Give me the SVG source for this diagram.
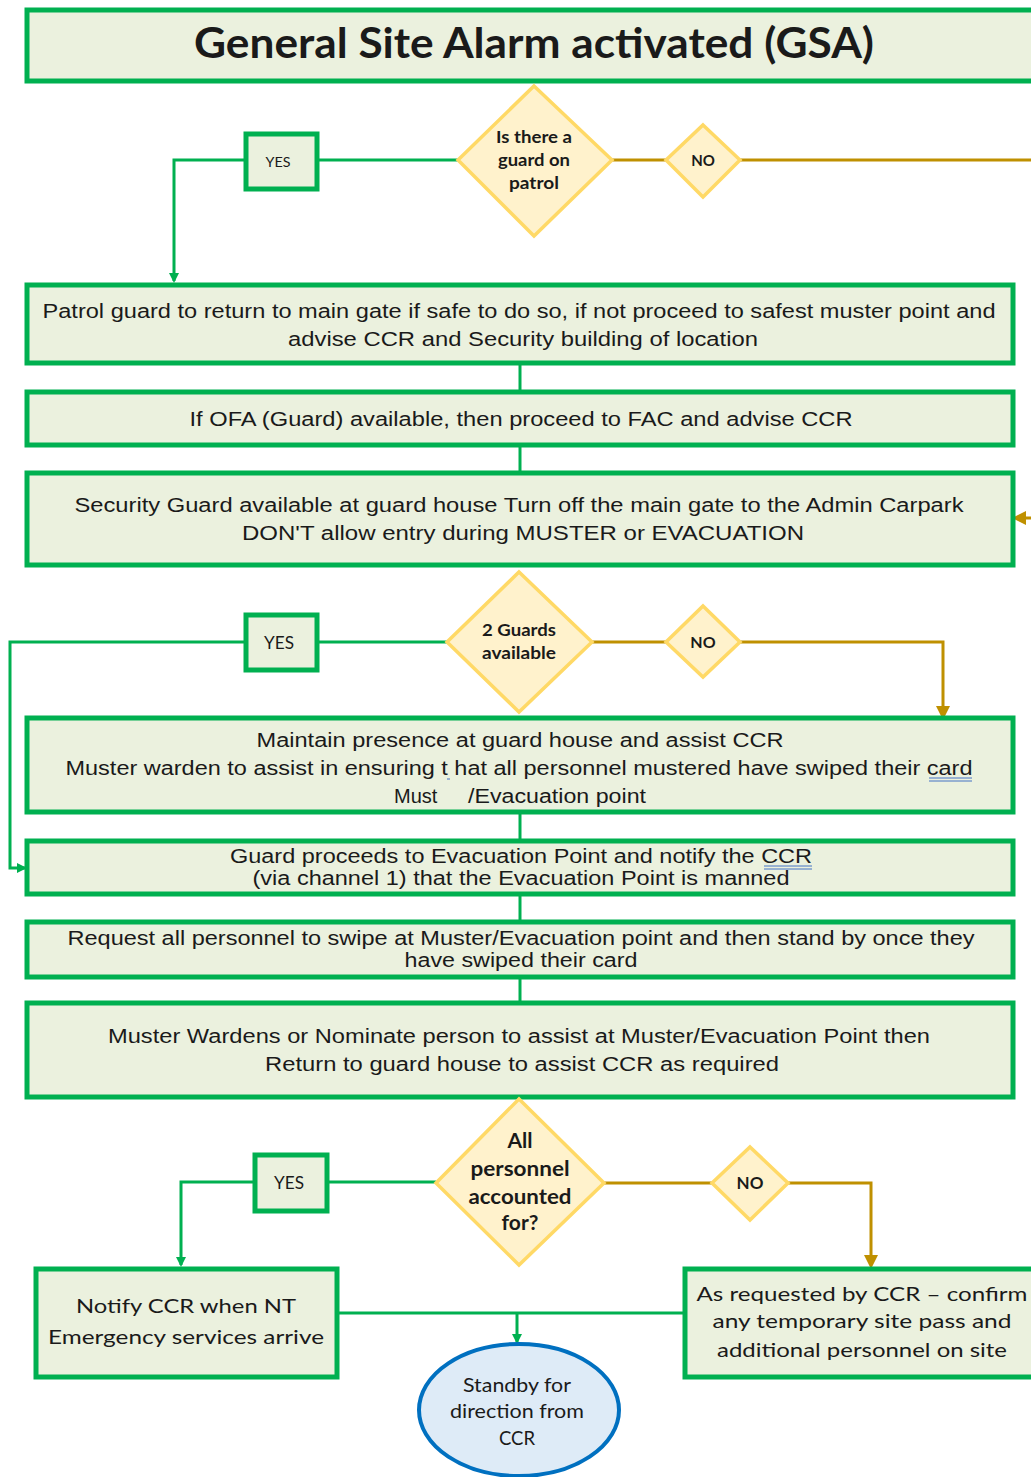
<svg xmlns="http://www.w3.org/2000/svg" width="1031" height="1477" viewBox="0 0 1031 1477">
<style>
.box{fill:#EBF1DE;stroke:#00B050;stroke-width:5}
.dia{fill:#FFF2CC;stroke:#FFD966;stroke-width:3.5}
.g{fill:none;stroke:#00B050;stroke-width:3}
.o{fill:none;stroke:#BF9000;stroke-width:3}
.t{font-family:"Liberation Sans",Arial,sans-serif;font-size:20px;fill:#1a1a1a;text-anchor:middle}
.c{font-family:Lato,"Open Sans",sans-serif;fill:#1a1a1a;text-anchor:middle}
.cb{font-family:Lato,"Open Sans",sans-serif;font-weight:bold;fill:#1a1a1a;text-anchor:middle}
.ul{stroke:#4472C4;stroke-width:1}
</style>
<defs>
<marker id="ag" markerWidth="10" markerHeight="10" refX="8" refY="5" orient="auto" markerUnits="userSpaceOnUse" viewBox="0 0 10 10"><path d="M0,0 L10,5 L0,10 z" fill="#00B050"/></marker>
<marker id="ao" markerWidth="14" markerHeight="14" refX="10" refY="7" orient="auto" markerUnits="userSpaceOnUse" viewBox="0 0 14 14"><path d="M0,0 L14,7 L0,14 z" fill="#BF9000"/></marker>
</defs>

<g id="connectors">
<path class="g" d="M458,160 H317"/>
<path class="g" d="M246,160 H174 V281" marker-end="url(#ag)"/>
<path class="o" d="M612,160 H666"/>
<path class="o" d="M740,160 H1045 V518 H1016" marker-end="url(#ao)"/>
<path class="g" d="M520,363 V392"/>
<path class="g" d="M520,445 V473"/>
<path class="g" d="M447,642 H317"/>
<path class="g" d="M246,642 H10 V868 H25" marker-end="url(#ag)"/>
<path class="o" d="M592,642 H666"/>
<path class="o" d="M740,642 H943 V716" marker-end="url(#ao)"/>
<path class="g" d="M520,812 V841"/>
<path class="g" d="M520,894 V922"/>
<path class="g" d="M520,977 V1003"/>
<path class="g" d="M436,1182 H327"/>
<path class="g" d="M255,1182 H181 V1265" marker-end="url(#ag)"/>
<path class="o" d="M604,1183 H712"/>
<path class="o" d="M788,1183 H871 V1265" marker-end="url(#ao)"/>
<path class="g" d="M337,1313 H685"/>
<path class="g" d="M517,1313 V1342" marker-end="url(#ag)"/>
</g>

<g id="title">
<rect class="box" x="27" y="10" width="1020" height="71"/>
<text class="cb" x="534" y="58" font-size="42" textLength="680" lengthAdjust="spacingAndGlyphs">General Site Alarm activated (GSA)</text>
</g>

<g id="q-patrol">
<polygon class="dia" points="534,86 612,160 534,236 458,160"/>
<text class="cb" x="534" y="143" font-size="17" textLength="76" lengthAdjust="spacingAndGlyphs">Is there a</text>
<text class="cb" x="534" y="166" font-size="17" textLength="72" lengthAdjust="spacingAndGlyphs">guard on</text>
<text class="cb" x="534" y="189" font-size="17" textLength="50" lengthAdjust="spacingAndGlyphs">patrol</text>
</g>

<g id="yes1">
<rect class="box" x="246" y="134" width="71" height="55"/>
<text class="c" x="278" y="167" font-size="14" textLength="25" lengthAdjust="spacingAndGlyphs">YES</text>
</g>

<g id="no1">
<polygon class="dia" points="703,125 740,160 703,197 666,160"/>
<text class="cb" x="703" y="166" font-size="15">NO</text>
</g>

<g id="patrol">
<rect class="box" x="27" y="285" width="986" height="78"/>
<text class="t" x="519" y="318" textLength="953" lengthAdjust="spacingAndGlyphs">Patrol guard to return to main gate if safe to do so, if not proceed to safest muster point and</text>
<text class="t" x="523" y="346" textLength="470" lengthAdjust="spacingAndGlyphs">advise CCR and Security building of location</text>
</g>

<g id="ofa">
<rect class="box" x="27" y="392" width="986" height="53"/>
<text class="t" x="521" y="426" textLength="663" lengthAdjust="spacingAndGlyphs">If OFA (Guard) available, then proceed to FAC and advise CCR</text>
</g>

<g id="security">
<rect class="box" x="27" y="473" width="986" height="92"/>
<text class="t" x="519" y="512" textLength="889" lengthAdjust="spacingAndGlyphs">Security Guard available at guard house Turn off the main gate to the Admin Carpark</text>
<text class="t" x="523" y="540" textLength="562" lengthAdjust="spacingAndGlyphs">DON'T allow entry during MUSTER or EVACUATION</text>
</g>

<g id="q-guards">
<polygon class="dia" points="519,572 592,642 519,712 447,642"/>
<text class="cb" x="519" y="636" font-size="17" textLength="74" lengthAdjust="spacingAndGlyphs">2 Guards</text>
<text class="cb" x="519" y="659" font-size="17" textLength="74" lengthAdjust="spacingAndGlyphs">available</text>
</g>

<g id="yes2">
<rect class="box" x="246" y="615" width="71" height="55"/>
<text class="c" x="279" y="649" font-size="17" textLength="30" lengthAdjust="spacingAndGlyphs">YES</text>
</g>

<g id="no2">
<polygon class="dia" points="703,606 740,642 703,677 666,642"/>
<text class="cb" x="703" y="648" font-size="16">NO</text>
</g>

<g id="maintain">
<rect class="box" x="27" y="718" width="986" height="94"/>
<text class="t" x="520" y="747" textLength="527" lengthAdjust="spacingAndGlyphs">Maintain presence  at guard house and assist CCR</text>
<text class="t" x="519" y="775" textLength="907" lengthAdjust="spacingAndGlyphs">Muster warden to assist in ensuring t hat all personnel mustered have swiped their card</text>
<line class="ul" x1="447" y1="779" x2="450" y2="779"/>
<line class="ul" x1="929" y1="778" x2="972" y2="778"/>
<line class="ul" x1="929" y1="781" x2="972" y2="781"/>
<text class="t" x="394" y="803" style="text-anchor:start">Must</text>
<text class="t" x="468" y="803" style="text-anchor:start" textLength="178" lengthAdjust="spacingAndGlyphs">/Evacuation  point</text>
</g>

<g id="guard-proceeds">
<rect class="box" x="27" y="841" width="986" height="53"/>
<text class="t" x="521" y="863" textLength="582" lengthAdjust="spacingAndGlyphs">Guard proceeds to Evacuation Point and notify the CCR</text>
<line class="ul" x1="764" y1="866" x2="812" y2="866"/>
<line class="ul" x1="764" y1="869" x2="812" y2="869"/>
<text class="t" x="521" y="885" textLength="537" lengthAdjust="spacingAndGlyphs">(via channel 1) that the Evacuation Point is manned</text>
</g>

<g id="request">
<rect class="box" x="27" y="922" width="986" height="55"/>
<text class="t" x="521" y="945" textLength="907" lengthAdjust="spacingAndGlyphs">Request all personnel to swipe at Muster/Evacuation point and then stand by once they</text>
<text class="t" x="521" y="967" textLength="233" lengthAdjust="spacingAndGlyphs">have swiped their card</text>
</g>

<g id="muster-wardens">
<rect class="box" x="27" y="1003" width="986" height="94"/>
<text class="t" x="519" y="1043" textLength="822" lengthAdjust="spacingAndGlyphs">Muster Wardens or Nominate person to assist at Muster/Evacuation Point then</text>
<text class="t" x="522" y="1071" textLength="514" lengthAdjust="spacingAndGlyphs">Return to guard house to assist CCR as required</text>
</g>

<g id="q-accounted">
<polygon class="dia" points="519,1099 604,1183 519,1265 436,1183"/>
<text class="cb" x="520" y="1148" font-size="21">All</text>
<text class="cb" x="520" y="1176" font-size="21" textLength="99" lengthAdjust="spacingAndGlyphs">personnel</text>
<text class="cb" x="520" y="1204" font-size="21" textLength="103" lengthAdjust="spacingAndGlyphs">accounted</text>
<text class="cb" x="520" y="1230" font-size="21">for?</text>
</g>

<g id="yes3">
<rect class="box" x="255" y="1155" width="72" height="56"/>
<text class="c" x="289" y="1189" font-size="18" textLength="30" lengthAdjust="spacingAndGlyphs">YES</text>
</g>

<g id="no3">
<polygon class="dia" points="750,1147 788,1183 750,1220 712,1183"/>
<text class="cb" x="750" y="1189" font-size="17">NO</text>
</g>

<g id="notify">
<rect class="box" x="36" y="1269" width="301" height="108"/>
<text class="c" x="186" y="1313" font-size="20" textLength="220" lengthAdjust="spacingAndGlyphs">Notify CCR when NT</text>
<text class="c" x="186" y="1344" font-size="20" textLength="276" lengthAdjust="spacingAndGlyphs">Emergency  services arrive</text>
</g>

<g id="as-requested">
<rect class="box" x="685" y="1269" width="360" height="108"/>
<text class="c" x="862" y="1301" font-size="20" textLength="331" lengthAdjust="spacingAndGlyphs">As requested  by CCR – confirm</text>
<text class="c" x="862" y="1328" font-size="20" textLength="299" lengthAdjust="spacingAndGlyphs">any temporary  site pass and</text>
<text class="c" x="862" y="1357" font-size="20" textLength="290" lengthAdjust="spacingAndGlyphs">additional personnel on site</text>
</g>

<g id="standby">
<ellipse cx="519" cy="1410" rx="100" ry="66" fill="#DEEBF7" stroke="#0070C0" stroke-width="4"/>
<text class="c" x="517" y="1392" font-size="20" textLength="108" lengthAdjust="spacingAndGlyphs">Standby  for</text>
<text class="c" x="517" y="1418" font-size="20" textLength="134" lengthAdjust="spacingAndGlyphs">direction from</text>
<text class="c" x="517" y="1445" font-size="20" textLength="36" lengthAdjust="spacingAndGlyphs">CCR</text>
</g>
</svg>
